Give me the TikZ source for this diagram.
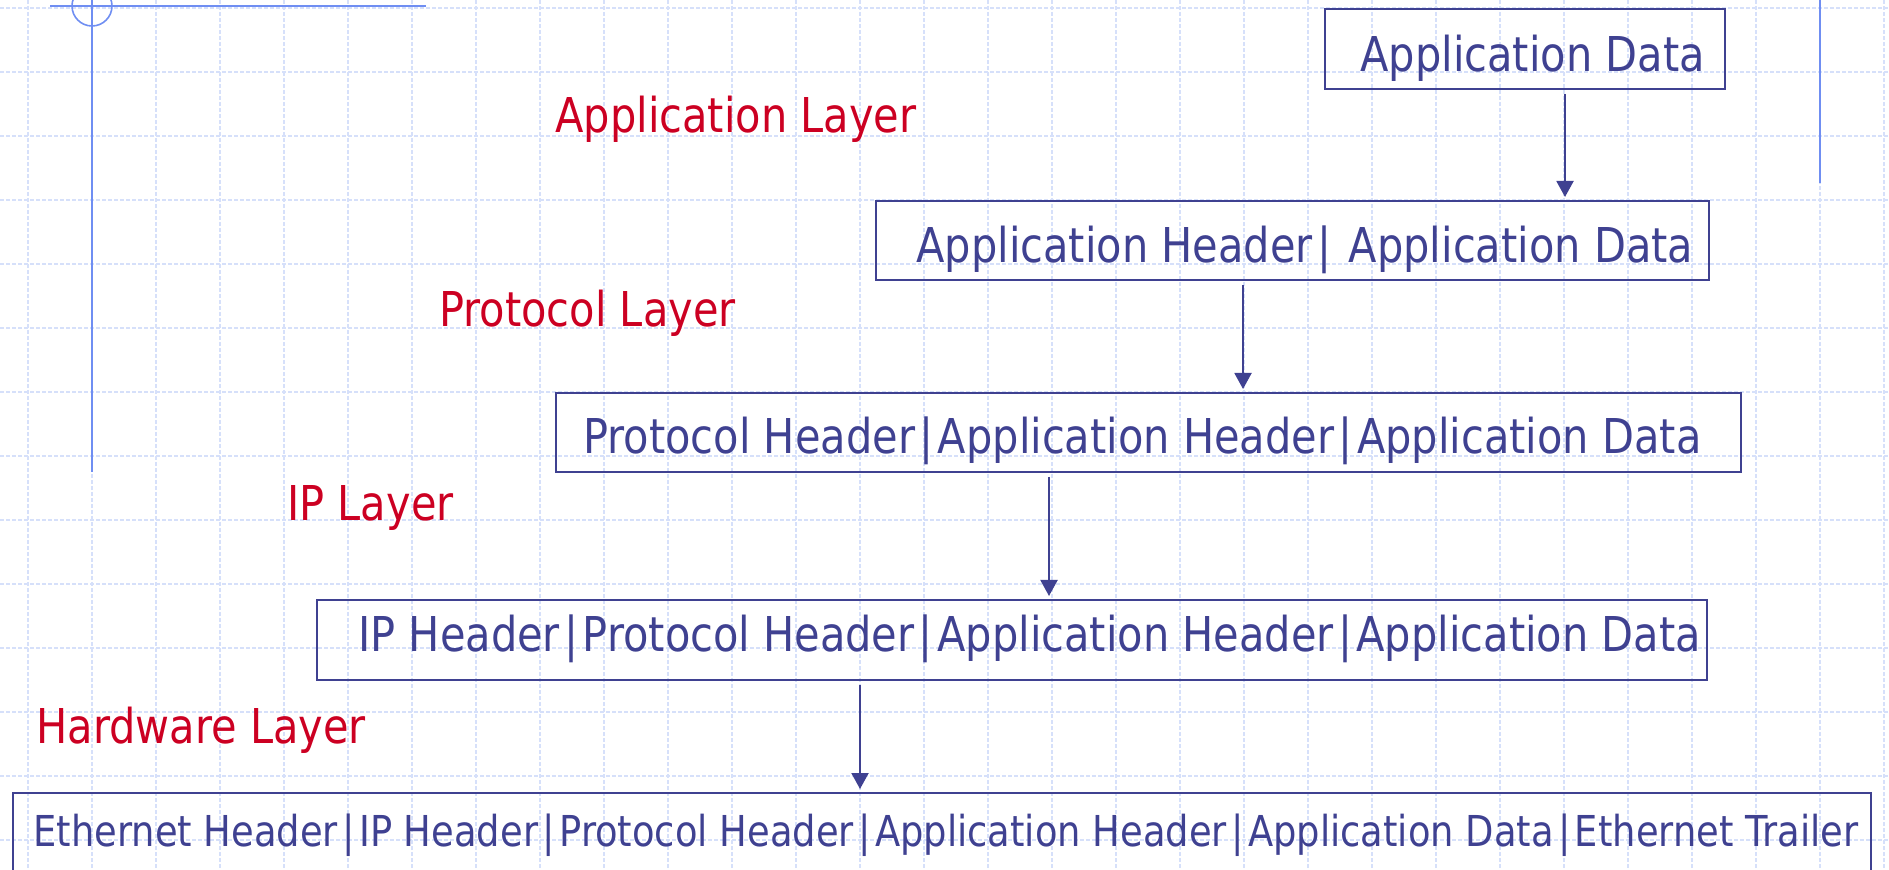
\documentclass[tikz,border=0pt]{standalone}
\usepackage{fontspec}
\setmainfont{DejaVu Sans}[FakeStretch=0.865]
\usetikzlibrary{arrows.meta}

\definecolor{ink}{HTML}{3F4191}
\definecolor{layerred}{HTML}{CC0022}
\definecolor{gridblue}{HTML}{D6E0FA}
\definecolor{ruleblue}{HTML}{6F8EF2}

% field separator with a little air on both sides
\newcommand\fieldsep{\hspace{2.2pt}|\hspace{2.2pt}}

\tikzset{
  gridline/.style={draw=gridblue, line width=0.65pt, dash pattern=on 2pt off 1pt},
  ruleline/.style={draw=ruleblue, line width=0.8pt},
  packet/.style={draw=ink, line width=1pt, inner sep=0pt, anchor=north west},
  pkttext/.style={text=ink, font=\fontsize{24}{28}\selectfont, anchor=base west, inner sep=0pt},
  smalltext/.style={pkttext, font=\fontsize{21.3}{25}\selectfont},
  layer/.style={text=layerred, font=\fontsize{24}{28}\selectfont, anchor=base west, inner sep=0pt},
  down/.style={draw=ink, line width=1pt, -{Triangle[width=8.5pt,length=8pt]},
               shorten <=2pt, shorten >=1.5pt},
}

\begin{document}
\begin{tikzpicture}[x=0.5pt, y=-0.5pt]
  \useasboundingbox (0,0) rectangle (1889,870);
  \clip (0,0) rectangle (1889,870);

  % background grid, 64 units apart
  \foreach \i in {0,...,29} {
    \pgfmathsetmacro\gx{28+64*\i}
    \draw[gridline] (\gx,0) -- (\gx,870);
  }
  \foreach \j in {0,...,13} {
    \pgfmathsetmacro\gy{8+64*\j}
    \draw[gridline] (0,\gy) -- (1889,\gy);
  }

  % page rules with the corner mark
  \draw[ruleline] (50,6) -- (426,6);
  \draw[ruleline] (92,0) -- (92,472);
  \draw[ruleline] (92,6) circle[radius=10pt];
  \draw[ruleline] (1820,0) -- (1820,183);

  % packets, one per layer
  \node[packet, minimum width=200pt,   minimum height=40pt]   (b1) at (1324,8)   {};
  \node[packet, minimum width=416.5pt, minimum height=39.5pt] (b2) at (875,200)  {};
  \node[packet, minimum width=592.5pt, minimum height=39.5pt] (b3) at (555,392)  {};
  \node[packet, minimum width=695pt,   minimum height=40pt]   (b4) at (316,599)  {};
  \node[packet, minimum width=929pt,   minimum height=45pt]   (b5) at (12,792)   {};

  \node[pkttext] (t1) at (1360,72)  {Application Data};
  \node[pkttext] (t2) at (916,263)  {Application Header\fieldsep{} Application Data};
  \node[pkttext] (t3) at (583,454)  {Protocol Header\fieldsep Application Header\fieldsep Application Data};
  \node[pkttext] (t4) at (358,652)  {IP Header\fieldsep Protocol Header\fieldsep Application Header\fieldsep Application Data};
  \node[smalltext] (t5) at (33,846) {Ethernet Header\fieldsep IP Header\fieldsep Protocol Header\fieldsep Application Header\fieldsep Application Data\fieldsep Ethernet Trailer};

  % layer names
  \node[layer] (l1) at (555,133) {Application Layer};
  \node[layer] (l2) at (439,327) {Protocol Layer};
  \node[layer] (l3) at (287,521) {IP Layer};
  \node[layer] (l4) at (36,743)  {Hardware Layer};

  % encapsulation arrows
  \coordinate (c1) at (1565,0);
  \coordinate (c2) at (1243,0);
  \coordinate (c3) at (1049,0);
  \coordinate (c4) at (860,0);
  \draw[down] (b1.south -| c1) -- (b2.north -| c1);
  \draw[down] (b2.south -| c2) -- (b3.north -| c2);
  \draw[down] (b3.south -| c3) -- (b4.north -| c3);
  \draw[down] (b4.south -| c4) -- (b5.north -| c4);
\end{tikzpicture}
\end{document}
